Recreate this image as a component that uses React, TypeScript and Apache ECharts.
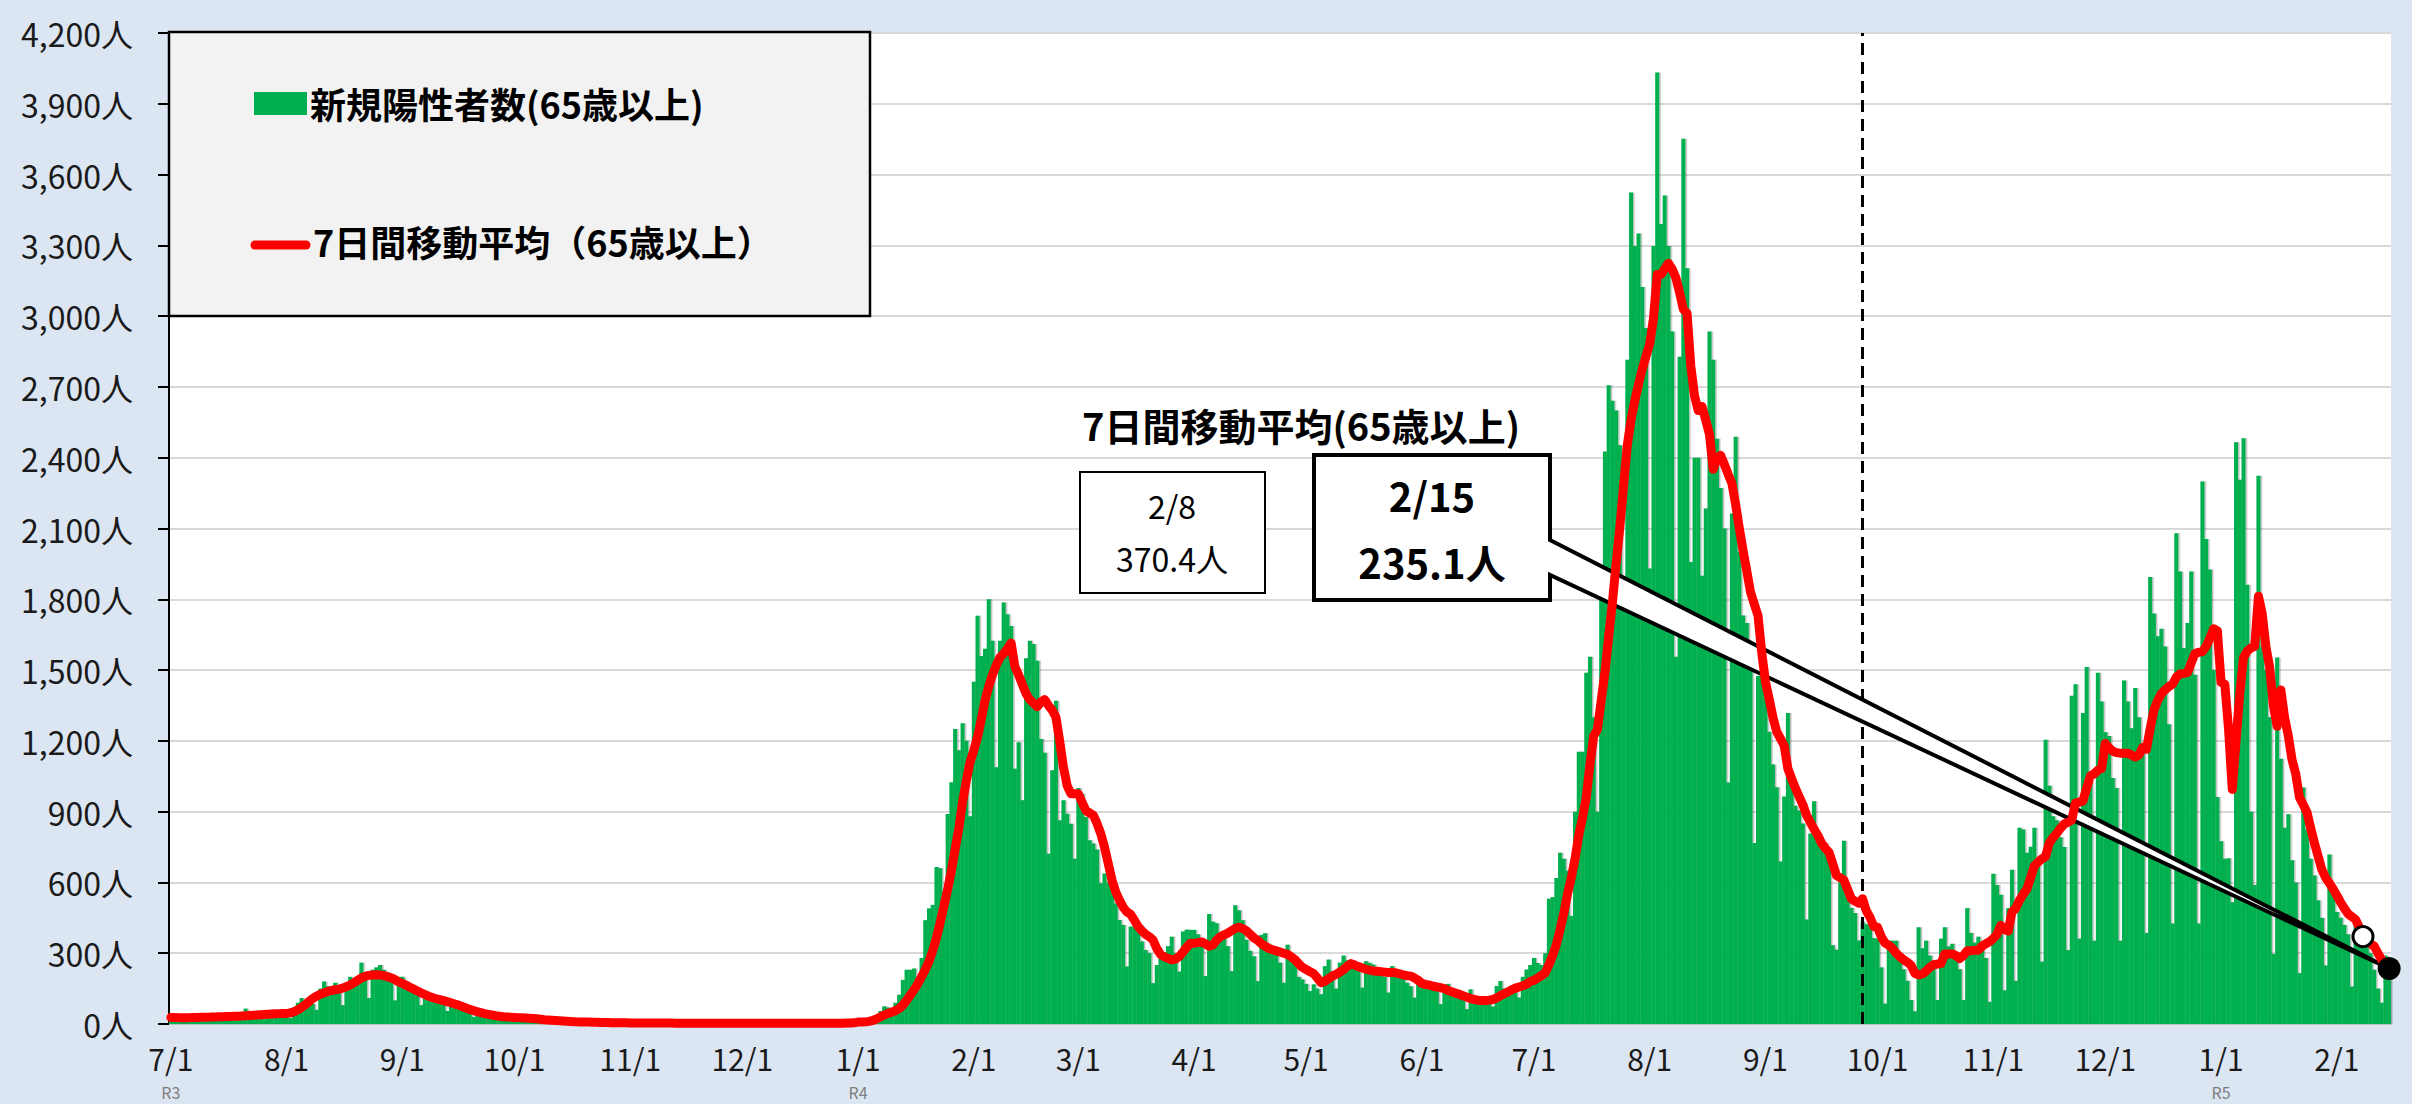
import React, { useEffect, useRef } from "react";
import * as echarts from "echarts";

// ---- data (daily new positives aged 65+, and 7-day moving average) ----
const monthStarts: [number, number][] = [
  [2021, 7], [2021, 8], [2021, 9], [2021, 10], [2021, 11], [2021, 12],
  [2022, 1], [2022, 2], [2022, 3], [2022, 4], [2022, 5], [2022, 6],
  [2022, 7], [2022, 8], [2022, 9], [2022, 10], [2022, 11], [2022, 12],
  [2023, 1], [2023, 2],
];

const daily2107 = [30,32,30,25,12,28,33,32,31,30,26,14,33,36,35,34,33,28,16,38,65,40,35,38,32,20,48,52,50,48,46];
const daily2108 = [40,25,70,90,110,100,95,85,60,150,180,160,150,175,140,80,160,200,180,195,260,200,110,230,240,250,230,220,200,100,200];
const daily2109 = [200,180,170,150,130,80,140,130,120,115,105,95,55,100,95,90,80,70,60,30,45,55,40,45,40,35,18,35,32,30];
const daily2110 = [30,28,25,12,26,24,22,20,18,16,8,16,15,13,12,11,10,5,10,9,8,8,7,6,3,7,6,5,5,5,4];
const daily2111 = [2,5,4,3,4,4,3,1,4,5,4,4,3,3,1,4,3,4,3,3,2,1,2,3,3,3,2,2,1,3];
const daily2112 = [3,2,3,3,2,1,3,2,3,3,2,2,1,3,2,3,3,2,2,1,3,3,4,3,4,3,2,4,5,6,6];
const daily2201 = [4,5,6,15,25,35,55,75,70,45,90,124,187,230,230,235,180,280,440,490,505,665,660,560,890,1025,1250,1160,1275,1200,880];
const daily2202 = [1450,1730,1560,1590,1800,1624,1088,1624,1786,1737,1687,1082,1194,948,1550,1624,1610,1540,1208,1150,722,1075,1370,863,948,891,849,700];
const daily2203 = [1000,976,877,779,765,740,596,638,600,582,511,441,420,244,413,413,400,350,314,300,173,250,279,300,330,370,300,222,392,400,399];
const daily2204 = [399,380,350,203,466,434,427,371,390,330,224,503,482,440,357,310,287,182,378,385,340,315,300,260,175,336,300,273,200,189];
const daily2205 = [170,140,168,150,126,245,273,224,150,260,290,270,259,255,240,154,266,259,252,240,230,200,133,245,217,230,200,175,160,112,200];
const daily2206 = [175,182,165,150,140,84,154,170,147,140,125,115,63,147,119,115,110,100,95,74,161,182,150,150,145,135,112,200,231,250];
const daily2207 = [280,259,250,300,531,538,619,726,700,650,458,900,1154,1154,1489,1556,1300,900,1837,2426,2707,2641,2600,2453,1864,2815,3524,3297,3350,3123,2950];
const daily2208 = [1931,3297,4033,3390,3511,3297,2935,1556,2828,3752,3203,1958,2400,2400,1900,2185,2935,2815,2480,2272,2100,1023,2164,2489,2000,1731,1700,1500,767,1475,1495];
const daily2209 = [1495,1239,1100,1003,689,964,1318,1003,925,905,850,443,807,944,767,780,767,700,334,315,600,777,590,492,470,354,433,423,450,364];
const daily2210 = [362,240,86,353,353,353,300,232,183,102,54,410,321,353,290,250,102,362,410,329,340,300,232,102,491,386,345,370,330,280,94];
const daily2211 = [637,589,548,143,491,654,183,832,824,726,751,832,700,264,1205,1010,880,864,791,750,313,1391,1440,362,1318,1513,1020,353,1489,1367];
const daily2212 = [1237,1221,1043,1000,353,1456,1367,1253,1424,1300,1150,386,1894,1740,1643,1675,1600,1270,426,2080,1918,1594,1700,1918,1480,426,2299,2056,1926,1500,962];
const daily2301 = [775,700,702,516,2466,2307,2483,1862,900,589,2324,1600,1500,1300,297,1553,1124,832,889,694,600,216,1002,824,700,629,524,450,248,718,589];
const daily2302 = [475,450,420,380,159,450,400,335,330,300,230,150,90,290,256];

const ma2107 = [28,28,27,27,27,27,28,28,29,29,29,30,30,31,31,32,32,33,33,34,35,36,37,38,39,40,41,42,43,44,45];
const ma2108 = [45,47,52,60,70,82,95,108,118,126,132,138,142,145,148,152,158,165,175,185,195,202,206,208,209,208,205,200,196,188,178];
const ma2109 = [172,164,156,148,140,132,125,118,112,107,103,99,95,90,85,80,74,68,62,57,52,48,44,41,38,35,33,31,30,29];
const ma2110 = [28,27,26,25,24,23,22,20,18,17,16,15,14,13,12,11,10,9,9,8,8,7,7,6,6,6,5,5,5,5,5];
const ma2111 = [4,4,4,4,4,4,4,4,4,4,4,4,3,3,3,3,3,3,3,3,3,3,3,3,3,3,3,3,3,3];
const ma2112 = [3,3,3,3,3,3,3,3,3,3,3,3,3,3,3,3,3,3,3,3,3,3,3,3,3,3,3,3,4,4,5];
const ma2201 = [8,8,9,11,15,22,30,38,45,50,56,65,80,100,122,145,170,200,230,265,310,365,430,500,570,650,740,830,940,1030,1110];
const ma2202 = [1160,1215,1290,1370,1430,1480,1520,1553,1570,1590,1615,1515,1480,1440,1400,1375,1360,1345,1365,1375,1350,1330,1300,1200,1090,1010,976,976];
const ma2203 = [976,940,905,895,885,850,807,750,680,610,560,525,495,475,465,440,413,395,380,370,356,320,295,285,278,272,275,286,305,325,342];
const ma2204 = [342,345,348,340,330,335,355,370,378,385,395,405,410,405,395,380,365,355,340,330,320,315,310,305,300,295,285,273,255,240];
const ma2205 = [231,222,214,195,175,180,192,203,210,220,230,245,256,250,243,238,232,228,225,224,222,220,218,218,217,213,208,205,203,195,185];
const ma2206 = [172,168,165,160,157,154,150,142,137,131,126,120,114,108,104,101,100,100,101,104,110,120,128,136,145,152,157,162,168,180];
const ma2207 = [185,195,205,217,250,290,337,400,470,552,620,700,800,873,960,1100,1221,1248,1370,1489,1640,1784,1950,2105,2280,2453,2560,2641,2710,2775,2830];
const ma2208 = [2882,2989,3176,3176,3200,3224,3200,3163,3100,3029,3012,2790,2662,2600,2617,2560,2499,2351,2400,2410,2371,2330,2292,2203,2100,2007,1920,1830,1780,1731,1574];
const ma2209 = [1450,1377,1300,1239,1210,1180,1082,1040,1000,964,930,885,855,826,800,767,745,728,680,630,620,610,570,531,520,512,531,480,452,413];
const ma2210 = [410,370,344,334,320,300,285,272,262,248,215,208,212,224,240,251,254,256,297,297,297,290,277,290,310,310,313,313,330,340,349];
const ma2211 = [362,380,418,400,394,475,490,524,550,572,620,670,686,700,710,767,790,808,830,848,855,864,937,940,945,1000,1051,1060,1075,1083];
const ma2212 = [1189,1170,1156,1150,1148,1148,1148,1140,1132,1140,1172,1164,1250,1330,1370,1400,1416,1430,1440,1470,1484,1486,1489,1530,1570,1575,1578,1600,1635,1675,1667];
const ma2301 = [1448,1440,1250,994,1200,1400,1553,1580,1594,1600,1813,1740,1600,1513,1351,1262,1416,1300,1221,1120,1059,960,929,897,830,767,710,654,620,597,572];
const ma2302 = [545,516,490,467,455,443,410,370.4,355,340,330,300,272,255,235.1];

const dailyByMonth = [daily2107,daily2108,daily2109,daily2110,daily2111,daily2112,daily2201,daily2202,daily2203,daily2204,daily2205,daily2206,daily2207,daily2208,daily2209,daily2210,daily2211,daily2212,daily2301,daily2302];
const maByMonth = [ma2107,ma2108,ma2109,ma2110,ma2111,ma2112,ma2201,ma2202,ma2203,ma2204,ma2205,ma2206,ma2207,ma2208,ma2209,ma2210,ma2211,ma2212,ma2301,ma2302];

const eraLabels: Record<string, string> = { "2021/7/1": "R3", "2022/1/1": "R4", "2023/1/1": "R5" };
const dividerDate = "2022/9/27";
const calloutDates = ["2023/2/8", "2023/2/15"];
const calloutValues = [370.4, 235.1];

const barName = "新規陽性者数(65歳以上)";
const lineName = "7日間移動平均（65歳以上）";
const annotTitle = "7日間移動平均(65歳以上)";

const FONT = '"Noto Sans CJK JP", "Noto Sans", sans-serif';

export default function App() {
  const ref = useRef<HTMLDivElement>(null);

  useEffect(() => {
    if (!ref.current) return;
    const chart = echarts.init(ref.current, undefined, { renderer: "svg" });

    const categories: string[] = [];
    const daily: number[] = [];
    const ma: number[] = [];
    monthStarts.forEach(([y, m], mi) => {
      dailyByMonth[mi].forEach((v, j) => {
        categories.push(`${y}/${m}/${j + 1}`);
        daily.push(v);
        ma.push(maByMonth[mi][j]);
      });
    });

    chart.setOption({
      animation: false,
      textStyle: { fontFamily: FONT },
      grid: { left: 169, right: 21, top: 33, bottom: 80, show: true, backgroundColor: "#ffffff", borderWidth: 0 },
      xAxis: {
        type: "category",
        data: categories,
        boundaryGap: true,
        axisTick: { show: false },
        axisLine: { lineStyle: { color: "#bfbfbf", width: 2 } },
        axisLabel: {
          interval: (_i: number, v: string) => v.split("/")[2] === "1",
          formatter: (v: string) => {
            const p = v.split("/");
            return `${p[1]}/${p[2]}`;
          },
          fontSize: 30,
          lineHeight: 30,
          color: "#1a1a1a",
          margin: 19,
          fontFamily: FONT,
        },
      },
      yAxis: {
        type: "value",
        min: 0,
        max: 4200,
        interval: 300,
        axisLine: { show: true, lineStyle: { color: "#000", width: 2 } },
        axisTick: { show: true, length: 11, lineStyle: { color: "#000", width: 2 } },
        axisLabel: {
          formatter: (v: number) => v.toLocaleString("en-US") + "人",
          fontSize: 32,
          color: "#1a1a1a",
          margin: 36,
          fontFamily: FONT,
        },
        splitLine: { lineStyle: { color: "#d9d9d9", width: 2 } },
      },
      series: [
        {
          type: "bar",
          name: barName,
          data: daily,
          barWidth: 4,
          itemStyle: { color: "#00b050", shadowColor: "rgba(0,0,0,0.28)", shadowOffsetX: 1.5, shadowBlur: 1 },
          z: 1,
          silent: true,
        },
        {
          type: "line",
          name: lineName,
          data: ma,
          symbol: "none",
          lineStyle: { color: "#ff0000", width: 9, join: "round", cap: "round" },
          z: 10,
          silent: true,
          markLine: {
            silent: true,
            symbol: "none",
            label: { show: false },
            lineStyle: { color: "#000", type: [12, 7], width: 3 },
            data: [{ xAxis: dividerDate }],
          },
        },
        {
          type: "scatter",
          silent: true,
          z: 20,
          data: [
            { value: [calloutDates[0], calloutValues[0]], symbolSize: 20, itemStyle: { color: "#fff", borderColor: "#000", borderWidth: 3, opacity: 1 } },
            { value: [calloutDates[1], calloutValues[1]], symbolSize: 23, itemStyle: { color: "#000", opacity: 1 } },
          ],
        },
      ],
    });

    const tip = chart.convertToPixel({ xAxisIndex: 0, yAxisIndex: 0 }, [categories.indexOf(calloutDates[1]), calloutValues[1]]) as number[];
    const fmt = (d: string) => { const p = d.split("/"); return `${p[1]}/${p[2]}`; };

    // era labels (R3 / R4 / R5) under the first day of the year
    const eraTexts = Object.keys(eraLabels).map((d) => {
      const px = chart.convertToPixel({ xAxisIndex: 0 }, categories.indexOf(d)) as number;
      return {
        type: "text", z: 31, x: px, y: 1092,
        style: { text: eraLabels[d], fontSize: 16, fontFamily: FONT, fill: "#7f7f7f", align: "center", verticalAlign: "middle" },
      };
    });

    chart.setOption({
      graphic: [
        // legend box
        { type: "rect", z: 30, shape: { x: 169, y: 32, width: 701, height: 284 }, style: { fill: "#f2f2f2", stroke: "#000", lineWidth: 2.5 } },
        { type: "rect", z: 31, shape: { x: 254, y: 92, width: 53, height: 23 }, style: { fill: "#00b050" } },
        { type: "text", z: 31, x: 310, y: 103, style: { text: barName, fontSize: 36, fontWeight: "bold", fontFamily: FONT, fill: "#000", verticalAlign: "middle" } },
        { type: "line", z: 31, shape: { x1: 255, y1: 245, x2: 306, y2: 245 }, style: { stroke: "#ff0000", lineWidth: 9, lineCap: "round" } },
        { type: "text", z: 31, x: 313, y: 241, style: { text: lineName, fontSize: 36, fontWeight: "bold", fontFamily: FONT, fill: "#000", verticalAlign: "middle" } },
        // annotation title
        { type: "text", z: 31, x: 1301, y: 424, style: { text: annotTitle, fontSize: 38, fontWeight: "bold", fontFamily: FONT, fill: "#000", align: "center", verticalAlign: "middle" } },
        // 2/8 box
        { type: "rect", z: 30, shape: { x: 1080, y: 472, width: 185, height: 121 }, style: { fill: "#fff", stroke: "#000", lineWidth: 2 } },
        { type: "text", z: 31, x: 1172, y: 505, style: { text: fmt(calloutDates[0]), fontSize: 32, fontFamily: FONT, fill: "#000", align: "center", verticalAlign: "middle" } },
        { type: "text", z: 31, x: 1172, y: 558, style: { text: `${calloutValues[0]}人`, fontSize: 32, fontFamily: FONT, fill: "#000", align: "center", verticalAlign: "middle" } },
        // 2/15 callout
        {
          type: "polygon", z: 5,
          shape: { points: [[1314, 455], [1550, 455], [1550, 540], [tip[0], tip[1]], [1550, 575], [1550, 600], [1314, 600]] },
          style: { fill: "#fff", stroke: "#000", lineWidth: 4, lineJoin: "miter" },
        },
        { type: "text", z: 6, x: 1432, y: 495, style: { text: fmt(calloutDates[1]), fontSize: 40, fontWeight: "bold", fontFamily: FONT, fill: "#000", align: "center", verticalAlign: "middle" } },
        { type: "text", z: 6, x: 1432, y: 562, style: { text: `${calloutValues[1]}人`, fontSize: 40, fontWeight: "bold", fontFamily: FONT, fill: "#000", align: "center", verticalAlign: "middle" } },
        ...eraTexts,
      ],
    });

    return () => chart.dispose();
  }, []);

  return (
    <div
      ref={ref}
      style={{ position: "fixed", left: 0, top: 0, width: 2412, height: 1104, background: "#dce6f2" }}
    />
  );
}
